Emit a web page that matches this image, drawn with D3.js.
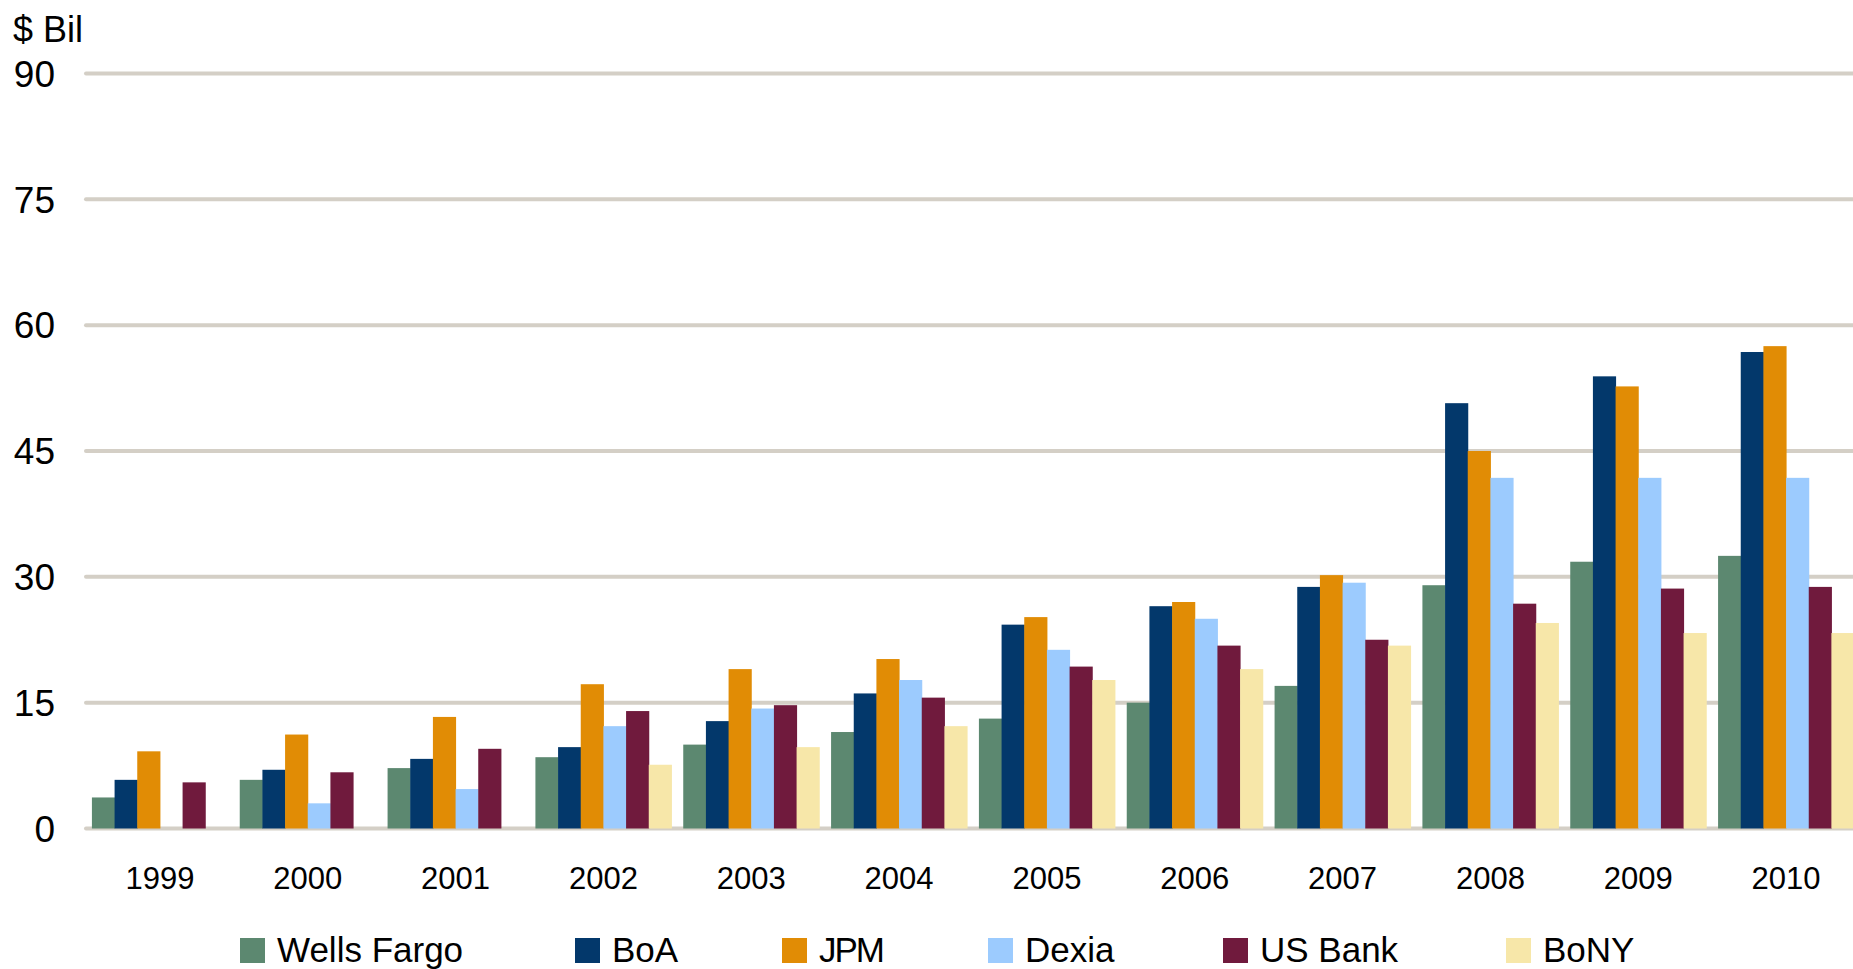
<!DOCTYPE html>
<html>
<head>
<meta charset="utf-8">
<script src="https://cdn.jsdelivr.net/npm/d3@7"></script>
<style>
  body { margin: 0; background: #fff; }
  svg { display: block; }
  text { font-family: "Liberation Sans", Arial, sans-serif; fill: #000; }
</style>
</head>
<body>
<svg id="chart" width="1853" height="969"></svg>
<script>
// Chart data ($ Bil)
var years = ["1999", "2000", "2001", "2002", "2003", "2004", "2005", "2006", "2007", "2008", "2009", "2010"];
var seriesNames = ["Wells Fargo", "BoA", "JPM", "Dexia", "US Bank", "BoNY"];
var wellsFargo = [3.7, 5.8, 7.2, 8.5, 10.0, 11.5, 13.1, 15.0, 17.0, 29.0, 31.8, 32.5];
var boa        = [5.8, 7.0, 8.3, 9.7, 12.8, 16.1, 24.3, 26.5, 28.8, 50.7, 53.9, 56.8];
var jpm        = [9.2, 11.2, 13.3, 17.2, 19.0, 20.2, 25.2, 27.0, 30.2, 45.0, 52.7, 57.5];
var dexia      = [null, 3.0, 4.7, 12.2, 14.3, 17.7, 21.3, 25.0, 29.3, 41.8, 41.8, 41.8];
var usBank     = [5.5, 6.7, 9.5, 14.0, 14.7, 15.6, 19.3, 21.8, 22.5, 26.8, 28.6, 28.8];
var bony       = [null, null, null, 7.6, 9.7, 12.2, 17.7, 19.0, 21.8, 24.5, 23.3, 23.3];
var yTicks = [0, 15, 30, 45, 60, 75, 90];

var colors = ["#5c8870", "#03386b", "#e18c05", "#9ccbfe", "#701a3d", "#f7e7a9"];
var allSeries = [wellsFargo, boa, jpm, dexia, usBank, bony];

// layout
var plotLeft = 86;
var plotRight = 1860;   // plot runs a little past the window edge, like the original
var plotTop = 73.5;
var plotBottom = 828.5;
var legendPos = [240, 575, 782, 988, 1223, 1506];  // left edge of each legend swatch

var svg = d3.select("#chart");

var x0 = d3.scaleBand()
    .domain(years)
    .range([plotLeft, plotRight])
    .paddingInner(0.08)
    .paddingOuter(0.04);

var x1 = d3.scaleBand()
    .domain(seriesNames)
    .range([0, x0.bandwidth()]);

var y = d3.scaleLinear()
    .domain([0, 90])
    .range([plotBottom, plotTop]);

// gridlines (zero line included)
svg.append("g")
    .selectAll("line")
    .data(yTicks)
    .enter().append("line")
    .attr("x1", plotLeft)
    .attr("x2", 1900)
    .attr("y1", d => y(d))
    .attr("y2", d => y(d))
    .style("stroke", "#d4cfc6")
    .style("stroke-width", 4)
    .style("stroke-linecap", "round");

// y tick labels
svg.append("g")
    .selectAll("text")
    .data(yTicks)
    .enter().append("text")
    .attr("x", 55)
    .attr("y", d => y(d))
    .attr("dy", "0.36em")
    .attr("text-anchor", "end")
    .style("font-size", "37px")
    .text(d => d);

svg.append("text")
    .attr("x", 13)
    .attr("y", 42)
    .style("font-size", "36px")
    .text("$ Bil");

// bars
var groups = svg.append("g")
    .selectAll("g")
    .data(years)
    .enter().append("g")
    .attr("transform", d => "translate(" + x0(d) + ",0)");

groups.selectAll("rect")
    .data((yr, i) => seriesNames.map((name, s) => ({ name: name, color: colors[s], value: allSeries[s][i] })))
    .enter().filter(d => d.value != null)
    .append("rect")
    .attr("x", d => x1(d.name))
    .attr("width", x1.bandwidth() + 0.5)
    .attr("y", d => y(d.value))
    .attr("height", d => y(0) - y(d.value))
    .style("fill", d => d.color);

// x axis labels
svg.append("g")
    .selectAll("text")
    .data(years)
    .enter().append("text")
    .attr("x", d => x0(d) + x0.bandwidth() / 2)
    .attr("y", 889)
    .attr("text-anchor", "middle")
    .style("font-size", "31px")
    .text(d => d);

// legend
var legend = svg.append("g")
    .selectAll("g")
    .data(seriesNames)
    .enter().append("g")
    .attr("transform", (d, i) => "translate(" + legendPos[i] + ",938)");

legend.append("rect")
    .attr("width", 25)
    .attr("height", 25)
    .style("fill", (d, i) => colors[i]);

legend.append("text")
    .attr("x", 37)
    .attr("y", 24)
    .style("font-size", "35px")
    .style("letter-spacing", d => d === "JPM" ? "-2px" : null)
    .text(d => d);
</script>
</body>
</html>
